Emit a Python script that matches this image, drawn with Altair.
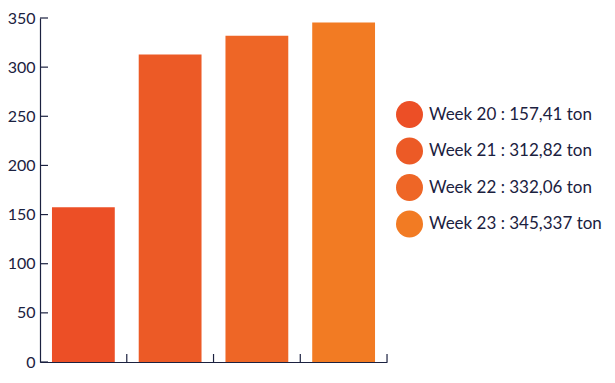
import altair as alt
import pandas as pd

weeks = ["Week 20", "Week 21", "Week 22", "Week 23"]
values = [157.41, 312.82, 332.06, 345.337]
value_labels = ["157,41", "312,82", "332,06", "345,337"]
colors = ["#EC4F26", "#EC5A26", "#EE6626", "#F27B23"]
y_ticks = [0, 50, 100, 150, 200, 250, 300, 350]

labels = [f"{w} : {v} ton" for w, v in zip(weeks, value_labels)]
df = pd.DataFrame({"week": weeks, "value": values, "label": labels})
tick_df = pd.DataFrame({"v": y_ticks})

navy = "#1B2140"
FONT = "Lato"

x_enc = alt.X("week:N", sort=weeks,
              scale=alt.Scale(paddingInner=0.276, paddingOuter=0.138),
              axis=alt.Axis(labels=False, ticks=False, title=None, domainColor=navy, domainWidth=1.2))
y_scale = alt.Scale(domain=[0, 350], nice=False)

bars = alt.Chart(df).mark_bar().encode(
    x=x_enc,
    y=alt.Y("value:Q", scale=y_scale,
            axis=alt.Axis(values=y_ticks, ticks=False, grid=False, title=None,
                          labelFont=FONT, labelFontSize=16, labelColor=navy,
                          labelPadding=5, domainColor=navy, domainWidth=1.2)),
    color=alt.Color("label:N", sort=labels,
                    scale=alt.Scale(domain=labels, range=colors),
                    legend=alt.Legend(title=None, orient="none", legendX=356, legendY=83,
                                      symbolType="circle", symbolSize=729, symbolStrokeWidth=0,
                                      labelFont=FONT, labelFontSize=17, labelColor=navy,
                                      labelLimit=300, rowPadding=9.5, labelOffset=6)),
)

ytick_rules = alt.Chart(tick_df).mark_rule(color=navy, strokeWidth=1.2).encode(
    y=alt.Y("v:Q", scale=y_scale),
    x=alt.value(0),
    x2=alt.value(8),
)

xtick_rules = alt.Chart(df).mark_rule(color=navy, strokeWidth=1.2, xOffset=12).encode(
    x=alt.X("week:N", sort=weeks, bandPosition=1),
    y=alt.value(344),
    y2=alt.value(336),
)

chart = alt.layer(bars, ytick_rules, xtick_rules).properties(
    width=347, height=344,
    autosize=alt.AutoSizeParams(type="none"),
    padding={"left": 32, "top": 10, "right": 220, "bottom": 13},
).configure_view(stroke=None)

chart.save("out.html", embed_options={"renderer": "svg", "actions": False})
